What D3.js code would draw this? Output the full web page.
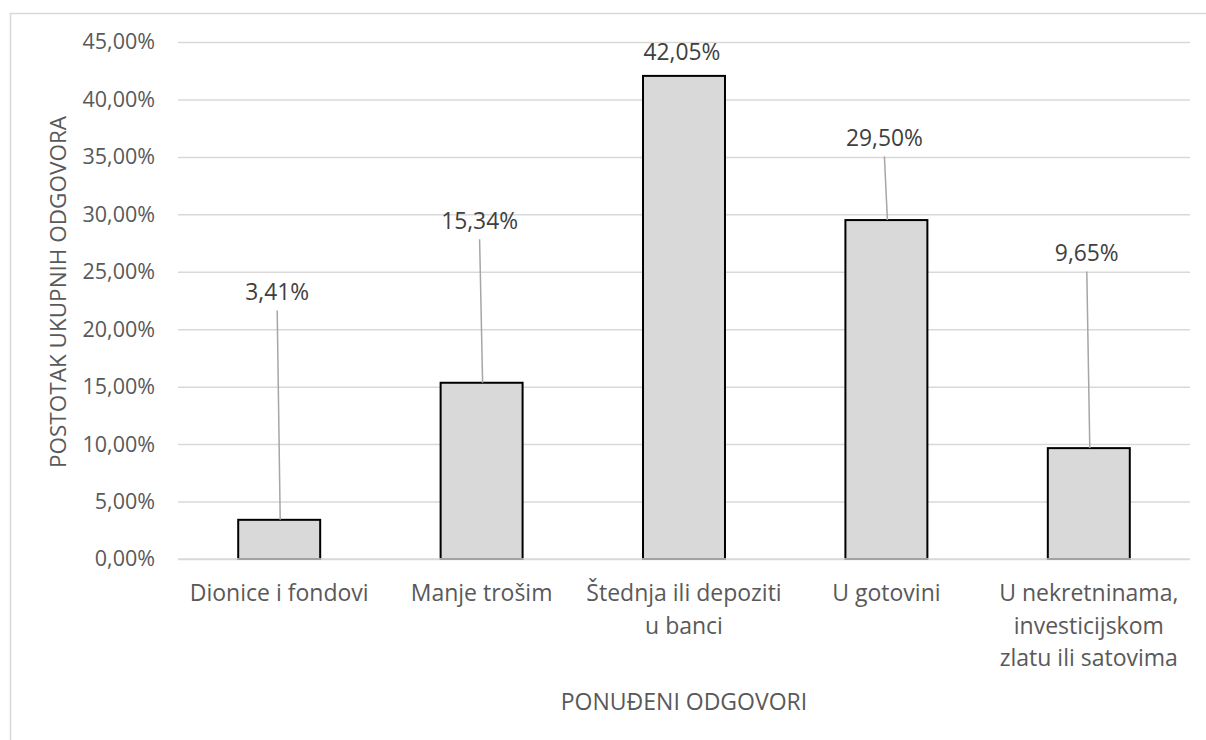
<!DOCTYPE html>
<html>
<head>
<meta charset="utf-8">
<script src="https://cdn.jsdelivr.net/npm/d3@7"></script>
<style>
  html, body { margin: 0; padding: 0; background: #fff; }
  svg { display: block; font-family: "Open Sans", "Noto Sans", sans-serif; }
</style>
</head>
<body>
<svg id="chart" width="1206" height="740"></svg>
<script>
// ---- data ----
const categories = [
  ["Dionice i fondovi"],
  ["Manje trošim"],
  ["Štednja ili depoziti", "u banci"],
  ["U gotovini"],
  ["U nekretninama,", "investicijskom", "zlatu ili satovima"]
];
const values = [3.41, 15.34, 42.05, 29.50, 9.65];
const valueLabels = ["3,41%", "15,34%", "42,05%", "29,50%", "9,65%"];
// value (in axis units) where each data label is anchored
const labelAnchors = [23.2, 29.4, 44.1, 36.6, 26.6];
const yTicks = [0, 5, 10, 15, 20, 25, 30, 35, 40, 45];
const yTickLabels = ["0,00%", "5,00%", "10,00%", "15,00%", "20,00%", "25,00%", "30,00%", "35,00%", "40,00%", "45,00%"];
const yTitle = "POSTOTAK UKUPNIH ODGOVORA";
const xTitle = "PONUĐENI ODGOVORI";

// ---- layout ----
const svg = d3.select("#chart");
const plot = { left: 178, right: 1190, top: 42, bottom: 559 };
const textColor = "#595959";

svg.append("rect")
  .attr("x", 10.5).attr("y", 13.5)
  .attr("width", 1400).attr("height", 900)
  .attr("fill", "none").attr("stroke", "#d9d9d9").attr("stroke-width", 1.5);

const x = d3.scaleBand()
  .domain(d3.range(values.length))
  .range([plot.left, plot.right])
  .paddingInner(0.595)
  .paddingOuter(0.2975);

const y = d3.scaleLinear().domain([0, 45]).range([plot.bottom, plot.top]);

// gridlines via axis
const yAxis = d3.axisLeft(y)
  .tickValues(yTicks)
  .tickSize(-(plot.right - plot.left))
  .tickPadding(23)
  .tickFormat((d, i) => yTickLabels[i]);

const gy = svg.append("g")
  .attr("transform", `translate(${plot.left},0)`)
  .call(yAxis);
gy.select(".domain").remove();
gy.selectAll(".tick line").attr("stroke", "#d9d9d9").attr("stroke-width", 1.5);
gy.selectAll(".tick text")
  .attr("fill", textColor)
  .attr("font-size", 21.5)
  .attr("font-family", "Open Sans, sans-serif");

// bars
svg.append("g").selectAll("rect")
  .data(values)
  .join("rect")
  .attr("x", (d, i) => x(i))
  .attr("y", d => y(d))
  .attr("width", x.bandwidth())
  .attr("height", d => y(0) - y(d))
  .attr("fill", "#d9d9d9")
  .attr("stroke", "#000")
  .attr("stroke-width", 2);

// redraw baseline on top
svg.append("line")
  .attr("x1", plot.left).attr("x2", plot.right)
  .attr("y1", y(0)).attr("y2", y(0))
  .attr("stroke", "#d9d9d9").attr("stroke-width", 1.5);

// leader lines
const leaderIdx = d3.range(values.length).filter(i => y(labelAnchors[i]) + 18 < y(values[i]) - 12);
svg.append("g").selectAll("line")
  .data(leaderIdx)
  .join("line")
  .attr("x1", i => x(i) + x.bandwidth() / 2 - 2)
  .attr("y1", i => y(labelAnchors[i]) + 18)
  .attr("x2", i => x(i) + x.bandwidth() / 2 + 1)
  .attr("y2", i => y(values[i]))
  .attr("stroke", "#a6a6a6").attr("stroke-width", 1.5);

// data labels
svg.append("g").selectAll("text")
  .data(values)
  .join("text")
  .attr("x", (d, i) => x(i) + x.bandwidth() / 2 - 2)
  .attr("y", (d, i) => y(labelAnchors[i]))
  .attr("dy", "0.35em")
  .attr("text-anchor", "middle")
  .attr("fill", "#404040")
  .attr("font-size", 22.8)
  .text((d, i) => valueLabels[i]);

// category labels
const catG = svg.append("g");
categories.forEach((lines, i) => {
  const t = catG.append("text")
    .attr("y", 593)
    .attr("text-anchor", "middle")
    .attr("fill", textColor)
    .attr("font-size", 23);
  lines.forEach((ln, j) => {
    t.append("tspan")
      .attr("x", x(i) + x.bandwidth() / 2)
      .attr("dy", j === 0 ? "0.35em" : 32.5)
      .text(ln);
  });
});

// axis titles
svg.append("text")
  .attr("x", (plot.left + plot.right) / 2)
  .attr("y", 702)
  .attr("dy", "0.35em")
  .attr("text-anchor", "middle")
  .attr("fill", textColor)
  .attr("font-size", 23)
  .text(xTitle);

svg.append("text")
  .attr("transform", `translate(58,292) rotate(-90)`)
  .attr("dy", "0.35em")
  .attr("text-anchor", "middle")
  .attr("fill", textColor)
  .attr("font-size", 22.5)
  .text(yTitle);
</script>
</body>
</html>
